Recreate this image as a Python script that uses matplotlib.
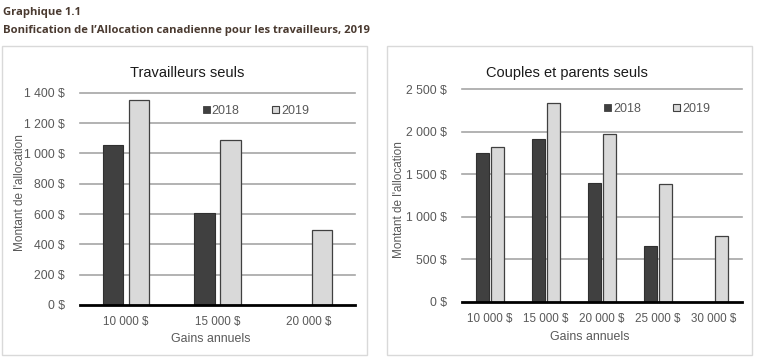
import matplotlib
matplotlib.use("Agg")
import matplotlib.pyplot as plt
from matplotlib.patches import Patch, Rectangle
from matplotlib import font_manager
import numpy as np

plt.rcParams['font.family'] = ['Liberation Sans', 'DejaVu Sans']

# ---------------- data ----------------
header1 = "Graphique 1.1"
header2 = "Bonification de l\u2019Allocation canadienne pour les travailleurs, 2019"

left_title = "Travailleurs seuls"
left_cats = ["10 000 $", "15 000 $", "20 000 $"]
left_2018 = [1055, 607, 0]
left_2019 = [1355, 1090, 495]
left_yticks = [0, 200, 400, 600, 800, 1000, 1200, 1400]
left_yticklabels = ["0 $", "200 $", "400 $", "600 $", "800 $", "1 000 $", "1 200 $", "1 400 $"]

right_title = "Couples et parents seuls"
right_cats = ["10 000 $", "15 000 $", "20 000 $", "25 000 $", "30 000 $"]
right_2018 = [1750, 1910, 1400, 655, 0]
right_2019 = [1820, 2340, 1975, 1380, 775]
right_yticks = [0, 500, 1000, 1500, 2000, 2500]
right_yticklabels = ["0 $", "500 $", "1 000 $", "1 500 $", "2 000 $", "2 500 $"]

series_names = ["2018", "2019"]
xlabel = "Gains annuels"
ylabel = "Montant de l'allocation"

# ---------------- style ----------------
W, H = 766, 361
DARK = "#404040"
LIGHT = "#d9d9d9"
TXT = "#595959"
GRID = "#a6a6a6"

names = {f.name for f in font_manager.fontManager.ttflist}
if "Liberation Sans Narrow" in names:
    NARROW = ["Liberation Sans Narrow", "Liberation Sans", "DejaVu Sans"]
    NSIZE_T, NSIZE_L = 9.5, 10
else:
    NARROW = ["Liberation Sans", "DejaVu Sans"]
    NSIZE_T, NSIZE_L = 8.4, 8.9

fig = plt.figure(figsize=(W / 100, H / 100), dpi=100)
fig.patch.set_facecolor("white")

def fx(px):
    return px / W

def fy(py):
    return 1 - py / H

# header
fig.text(fx(3), fy(13), header1, fontsize=8.15, fontweight="bold", color="#4a3a30",
         family=["Open Sans", "DejaVu Sans"], va="center", ha="left")
fig.text(fx(3), fy(30), header2, fontsize=8.15, fontweight="bold", color="#4a3a30",
         family=["Open Sans", "DejaVu Sans"], va="center", ha="left")

# panel borders
for x0, x1 in [(2, 367), (387, 752)]:
    fig.patches.append(Rectangle((fx(x0), fy(355)), fx(x1) - fx(x0), fy(46) - fy(355),
                                 transform=fig.transFigure, fill=False,
                                 edgecolor="#d9d9d9", linewidth=1.0))


def panel(rect, cats, v18, v19, yticks, yticklabels, ymax, width, offset,
          title, title_xy, ylab_xy, xlab_xy, leg_xy):
    x0, x1, ytop, ybot = rect
    ax = fig.add_axes([fx(x0), fy(ybot), fx(x1) - fx(x0), fy(ytop) - fy(ybot)])
    x = np.arange(len(cats))
    ax.bar(x - offset, v18, width, color=DARK, edgecolor="#303030", linewidth=0.8, zorder=3)
    ax.bar(x + offset, v19, width, color=LIGHT, edgecolor="#404040", linewidth=0.9, zorder=3)
    ax.set_xlim(-0.5, len(cats) - 0.5)
    ax.set_ylim(0, ymax)
    ax.set_yticks(yticks)
    ax.set_yticklabels(yticklabels, fontsize=8.8)
    ax.set_xticks(x)
    ax.set_xticklabels(cats, family=NARROW, fontsize=NSIZE_T)
    for yv in yticks[1:]:
        ax.axhline(yv, color=GRID, linewidth=1.2, zorder=1, clip_on=False)
    ax.axhline(0, color="black", linewidth=2.0, zorder=4, clip_on=False)
    for s in ax.spines.values():
        s.set_visible(False)
    ax.tick_params(axis="both", length=0, labelcolor=TXT)
    ax.tick_params(axis="y", pad=11)
    ax.tick_params(axis="x", pad=8)
    ax.set_facecolor("none")
    fig.text(fx(title_xy[0]), fy(title_xy[1]), title, fontsize=10.5, color="#1a1a1a",
             ha="center", va="center")
    fig.text(fx(ylab_xy[0]), fy(ylab_xy[1]), ylabel, fontsize=8.5, color=TXT,
             ha="center", va="center", rotation=90)
    fig.text(fx(xlab_xy[0]), fy(xlab_xy[1]), xlabel, family=NARROW, fontsize=NSIZE_L,
             color=TXT, ha="center", va="center")
    handles = [Patch(facecolor=DARK, edgecolor=DARK, linewidth=0.6),
               Patch(facecolor=LIGHT, edgecolor="#404040", linewidth=0.8)]
    leg = ax.legend(handles, series_names, loc="center",
                    bbox_to_anchor=((leg_xy[0] - x0) / (x1 - x0), (ybot - leg_xy[1]) / (ybot - ytop)),
                    ncol=2, frameon=False, fontsize=9, handlelength=0.55, handleheight=0.55,
                    handletextpad=0.15, columnspacing=2.6, borderaxespad=0)
    for t in leg.get_texts():
        t.set_color(TXT)
    return ax


panel((80, 355, 92.7, 305), left_cats, left_2018, left_2019, left_yticks,
      left_yticklabels, 1400, 0.22, 0.142, left_title, (187, 73),
      (20, 193), (210.5, 339.5), (256, 111))

panel((462, 742, 89.3, 301.7), right_cats, right_2018, right_2019, right_yticks,
      right_yticklabels, 2500, 0.23, 0.135, right_title, (567, 73),
      (399, 200), (590, 336.5), (657, 109))

fig.savefig("out.png", dpi=100, facecolor="white")
